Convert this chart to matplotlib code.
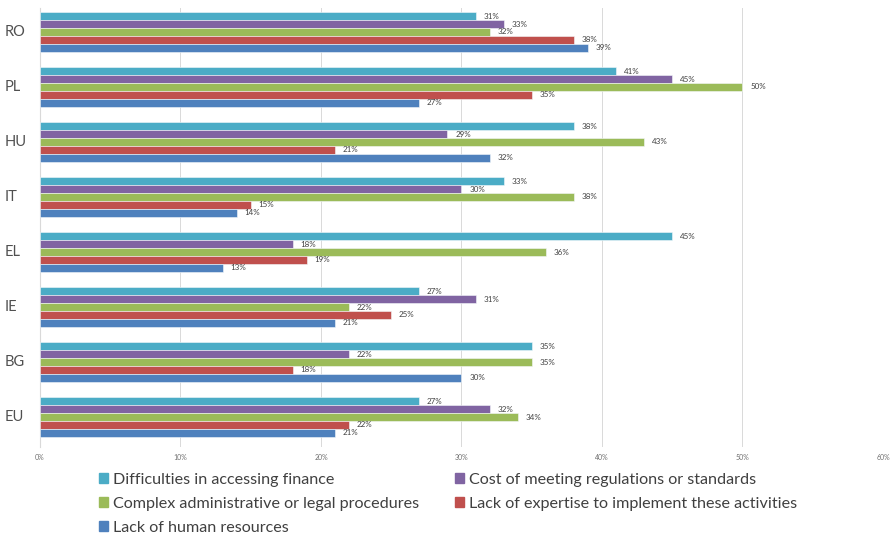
import matplotlib.pyplot as plt
import numpy as np
from matplotlib.patches import Patch

countries = ["RO", "PL", "HU", "IT", "EL", "IE", "BG", "EU"]
series_names = [
    "Difficulties in accessing finance",
    "Cost of meeting regulations or standards",
    "Complex administrative or legal procedures",
    "Lack of expertise to implement these activities",
    "Lack of human resources",
]
finance = [31, 41, 38, 33, 45, 27, 35, 27]
cost = [33, 45, 29, 30, 18, 31, 22, 32]
complex_proc = [32, 50, 43, 38, 36, 22, 35, 34]
expertise = [38, 35, 21, 15, 19, 25, 18, 22]
human = [39, 27, 32, 14, 13, 21, 30, 21]
x_ticks = [0, 10, 20, 30, 40, 50, 60]

series = [finance, cost, complex_proc, expertise, human]
colors = ["#4BACC6", "#8064A2", "#9BBB59", "#C0504D", "#4F81BD"]

plt.rcParams['font.family'] = ['Lato', 'DejaVu Sans']

fig = plt.figure(figsize=(8.95, 5.35), dpi=100)
ax = fig.add_axes([40/895, 1-447/535, (883-40)/895, 439/535])

n = len(countries)
centers = np.arange(n)[::-1]  # RO at top
bh = 0.145
for i, (vals, c) in enumerate(zip(series, colors)):
    offs = (2 - i) * bh
    ys = centers + offs
    ax.barh(ys, vals, height=bh, color=c, edgecolor='#f4f8fb', linewidth=0.4, zorder=3)
    for y, v in zip(ys, vals):
        ax.text(v + 0.55, y, f"{v}%", va='center', ha='left', fontsize=5.8, color='#404040', zorder=4)

ax.set_xlim(0, 60)
ax.set_ylim(-0.545, 7.436)
ax.set_xticks(x_ticks)
ax.set_xticklabels([f"{t}%" for t in x_ticks], fontsize=5, color='#707070')
ax.set_yticks([])
fig.canvas.draw()
for y, c in zip(centers, countries):
    fig.text(5/895, ax.transData.transform((0, y))[1] / 535, c, fontsize=10.5, color='#505050',
             ha='left', va='center')
ax.grid(axis='x', color='#d9d9d9', linewidth=0.7, zorder=0)
for s in ['top', 'right', 'bottom']:
    ax.spines[s].set_visible(False)
ax.spines['left'].set_color('#d9d9d9')
ax.tick_params(axis='x', length=0, pad=5)

legend_kw = dict(loc='upper left', frameon=False, fontsize=11.6, handlelength=0.55,
                 handleheight=0.55, handletextpad=0.35, labelspacing=0.62, borderpad=0,
                 borderaxespad=0, labelcolor='#404040')
col1 = [0, 2, 4]
col2 = [1, 3]
fig.legend([Patch(color=colors[i]) for i in col1], [series_names[i] for i in col1],
           bbox_to_anchor=(99/895, 1-473/535), **legend_kw)
fig.legend([Patch(color=colors[i]) for i in col2], [series_names[i] for i in col2],
           bbox_to_anchor=(455/895, 1-473/535), **legend_kw)

fig.savefig("out.png", dpi=100)
